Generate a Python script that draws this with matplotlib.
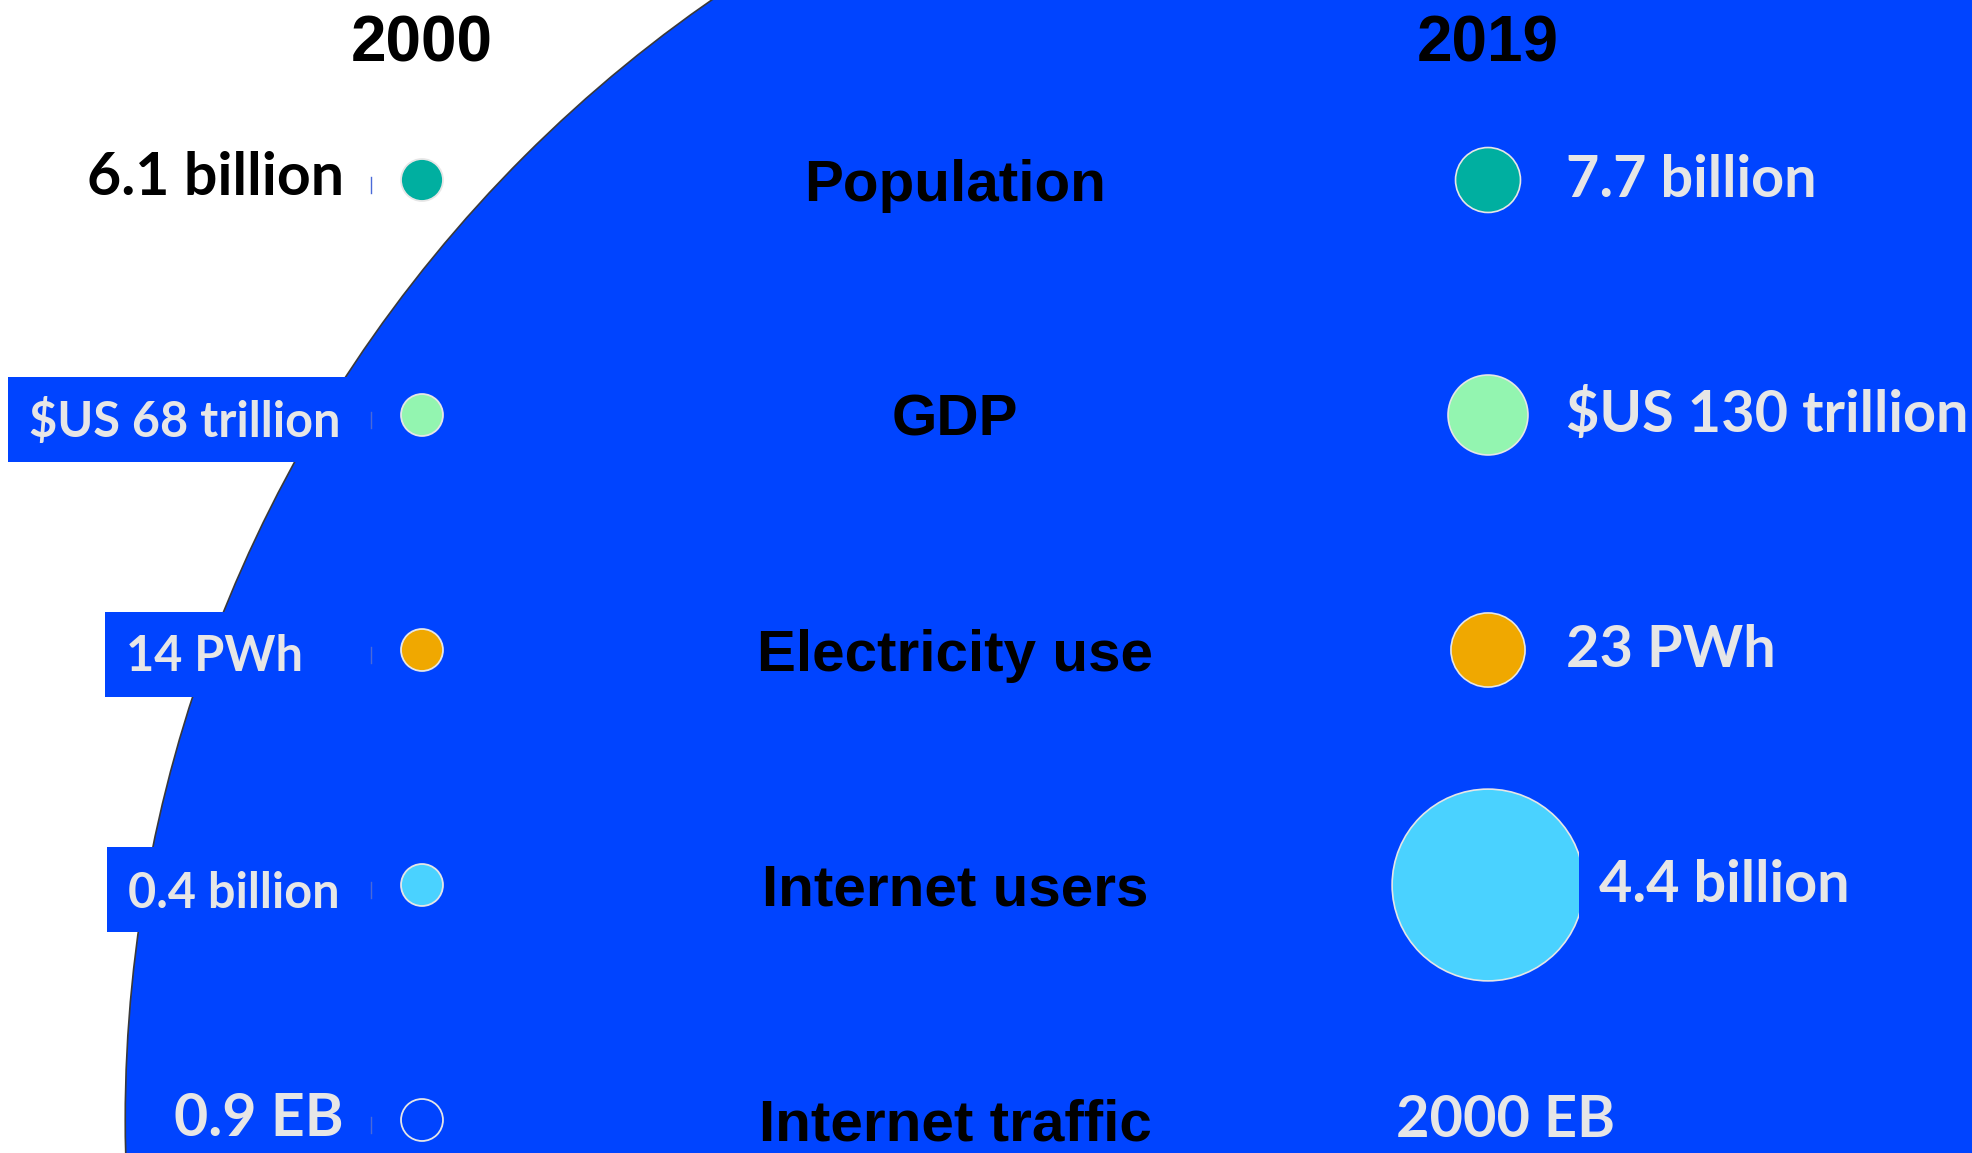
import matplotlib
matplotlib.use("Agg")
import matplotlib.pyplot as plt
import numpy as np
from matplotlib.patches import Rectangle
from matplotlib.transforms import Affine2D, blended_transform_factory

# ---------------- data ----------------
categories = ["Population", "GDP", "Electricity use", "Internet users", "Internet traffic"]
years = ["2000", "2019"]
values_2000 = [6.1, 68, 14, 0.4, 0.9]
values_2019 = [7.7, 130, 23, 4.4, 2000]
labels_2000 = ["6.1 billion", "$US 68 trillion", "14 PWh", "0.4 billion", "0.9 EB"]
labels_2019 = ["7.7 billion", "$US 130 trillion", "23 PWh", "4.4 billion", "2000 EB"]
colors = ["#00AFA0", "#93F5B0", "#F0A800", "#4AD2FF", "#0044FF"]

# ---------------- style / layout ----------------
BLUE = "#0044FF"
LIGHT = "#E6E6E6"
W, H, DPI = 1972, 1153, 100
PT = 72.0 / DPI  # points per pixel
X0_PX, X1_PX = 422, 1488
ROW0_PX, ROW_STEP_PX = 180, 235
VAL_FONT = "Lato"
CAT_FONT = "Liberation Sans"

fig = plt.figure(figsize=(W / DPI, H / DPI), dpi=DPI)
fig.patch.set_facecolor("white")
ax = fig.add_axes([0, 0, 1, 1])
ax.set_xlim(-X0_PX / (X1_PX - X0_PX), (W - X0_PX) / (X1_PX - X0_PX))
ax.set_ylim((H - ROW0_PX) / ROW_STEP_PX, -ROW0_PX / ROW_STEP_PX)
ax.axis("off")

tr_px = Affine2D().scale(1, -1).translate(0, H)  # top-down pixel coords

n = len(categories)
ypos = np.arange(n)
ratio = np.array(values_2019) / np.array(values_2000)
base_area = (2 * 15.1) ** 2
size_2000 = np.full(n, base_area)
size_2019 = base_area * 1.9 * ratio
big = int(np.argmax(size_2019))
others = [i for i in range(n) if i != big]

# huge 2019 bubble (internet traffic) as backdrop
ax.scatter([1], [ypos[big]], s=size_2019[big], c=colors[big],
           edgecolors="#3a3a3a", linewidths=1.2, zorder=1)

# 2019 bubbles
ax.scatter(np.ones(len(others)), ypos[others], s=size_2019[others],
           c=[colors[i] for i in others], edgecolors=LIGHT, linewidths=1.2, zorder=3)

# 2000 bubbles
ax.scatter(np.zeros(n), ypos, s=size_2000, c=colors,
           edgecolors=LIGHT, linewidths=1.3, zorder=3)

esc = lambda s: s.replace("$", r"\$")

# year headers
bt = blended_transform_factory(ax.transData, ax.transAxes)
for xi, yr in enumerate(years):
    ax.text(xi, 1 - 61 / H, yr, transform=bt, ha="center", va="baseline",
            fontsize=46, fontweight="bold", family=CAT_FONT, color="black", zorder=6)

# category labels
for i, cat in enumerate(categories):
    ax.annotate(cat, (0.5, ypos[i]), xytext=(0, -15), textcoords="offset points",
                ha="center", va="baseline", fontsize=42, fontweight="bold",
                family=CAT_FONT, color="black", zorder=6)

# left (2000) value labels
left_anchor_px = [344, 340, 126, 340, 344]
left_ha = ["right", "right", "left", "right", "right"]
left_size = [42.5, 35, 35, 35, 42.5]
left_color = ["black", LIGHT, LIGHT, LIGHT, LIGHT]
left_base_px = [15, 22, 21, 23, 16]
left_boxed = [False, True, True, True, False]
left_texts = []
for i, lab in enumerate(labels_2000):
    t = ax.annotate(esc(lab), (0, ypos[i]),
                    xytext=((left_anchor_px[i] - X0_PX) * PT, -left_base_px[i] * PT),
                    textcoords="offset points", ha=left_ha[i], va="baseline",
                    fontsize=left_size[i], fontweight="bold", family=VAL_FONT,
                    color=left_color[i], zorder=6)
    left_texts.append(t)

# right (2019) value labels
right_texts = []
for i, lab in enumerate(labels_2019):
    r_px = np.sqrt(size_2019[i]) / 2 / PT
    if i == big:
        dx, ha = 18, "center"
    else:
        dx, ha = max(78, r_px + 15), "left"
    t = ax.annotate(esc(lab), (1, ypos[i]), xytext=(dx * PT, -17 * PT),
                    textcoords="offset points", ha=ha, va="baseline",
                    fontsize=41.5, fontweight="bold", family=VAL_FONT,
                    color=LIGHT, zorder=6)
    right_texts.append((i, r_px, t))

fig.canvas.draw()
renderer = fig.canvas.get_renderer()

# blue label boxes
for i, t in enumerate(left_texts):
    row = ROW0_PX + ROW_STEP_PX * i
    if left_boxed[i]:
        bb = t.get_window_extent(renderer)
        x0 = bb.x0 - 21
        ax.add_patch(Rectangle((x0, row - 38), 371 - x0, 85, transform=tr_px,
                               facecolor=BLUE, edgecolor="none", zorder=2))
    ax.plot([371, 371], [row - 3, row + 13], transform=tr_px, color="#4a6ad8",
            lw=1.0, zorder=2.5)

for i, r_px, t in right_texts:
    if i != big and r_px + 15 > 78:
        row = ROW0_PX + ROW_STEP_PX * i
        bb = t.get_window_extent(renderer)
        x0 = bb.x0 - 20
        ax.add_patch(Rectangle((x0, row - 38), W - x0, 85, transform=tr_px,
                               facecolor=BLUE, edgecolor="none", zorder=4))

fig.savefig("out.png", dpi=DPI, facecolor="white")
